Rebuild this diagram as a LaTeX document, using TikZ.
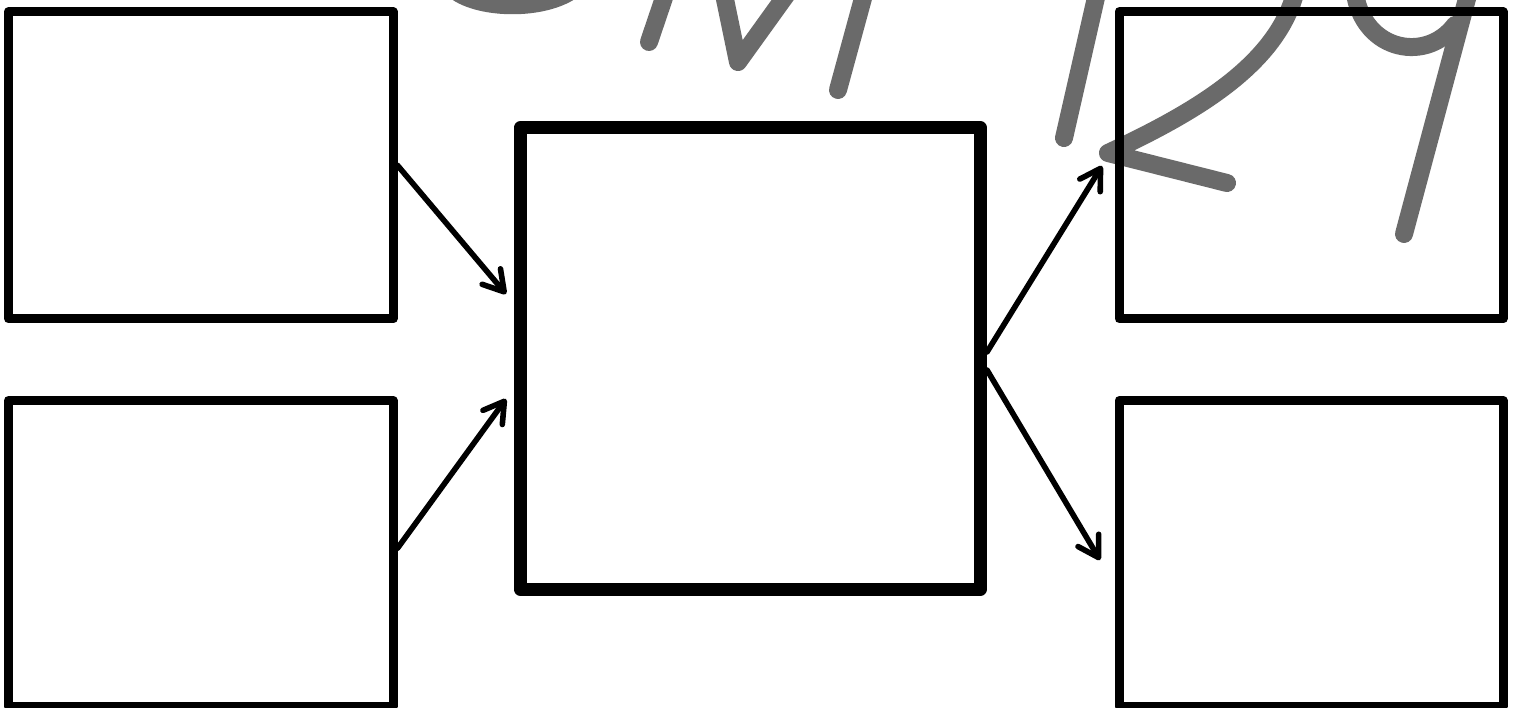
\documentclass[tikz,border=0pt]{standalone}
\usetikzlibrary{arrows.meta,calc}
\definecolor{pencil}{HTML}{6A6A6A}
\tikzset{
  panel/.style={draw=black, line width=9pt, line join=round, rectangle, inner sep=0pt},
  hub/.style={panel, line width=13pt},
  link/.style={draw=black, line width=5.6pt, line cap=round,
    -{Straight Barb[length=20pt,width=24pt,round]}},
  scrawl/.style={draw=pencil, line width=18pt, line cap=round, line join=round},
}
\begin{document}
\begin{tikzpicture}[x=1pt,y=-1pt]
\fill[white] (0,0) rectangle (1516,708);
\useasboundingbox (0,0) rectangle (1516,708);
\clip (0,0) rectangle (1516,708);

% handwritten pencil mark across the top
\draw[scrawl] (452,-12) .. controls (475,10) and (545,12) .. (575,-12);
\draw[scrawl] (670,-20) -- (649,42);
\draw[scrawl] (721,-20) -- (738,62) -- (797,-20);
\draw[scrawl] (868,-20) -- (838,90);
\draw[scrawl] (1100,-20) -- (1064,138);
\draw[scrawl] (1298,-20) .. controls (1285,60) and (1200,110) .. (1108,153) -- (1227,183);
\draw[scrawl] (1354,-15) .. controls (1358,50) and (1425,65) .. (1455,25);
\draw[scrawl] (1472,-20) -- (1404,234);

% boxes
\node[panel, minimum width=384.5pt, minimum height=307.3pt] (tl) at (200.75,165.35) {};
\node[panel, minimum width=384.5pt, minimum height=305.5pt] (bl) at (200.75,553.25) {};
\node[hub,   minimum width=460.5pt, minimum height=461pt]   (c)  at (750.25,358.5) {};
\node[panel, minimum width=384pt,   minimum height=307.3pt] (tr) at (1311,165.35) {};
\node[panel, minimum width=384pt,   minimum height=305.5pt] (br) at (1311,553.25) {};

% connectors
\coordinate (inA)  at ($(c.west)+(-7.5,-64.5)$);
\coordinate (inB)  at ($(c.west)+(-7.5,40.5)$);
\coordinate (outA) at ($(tr.west)+(-12.5,0.65)$);
\coordinate (outB) at ($(br.west)+(-14.5,6.75)$);

\draw[link] (tl.east) -- (inA);
\draw[link] ($(bl.east)+(0,-5)$) -- (inB);
\draw[link] ($(c.east)+(0,-6.5)$) -- (outA);
\draw[link] ($(c.east)+(0,11.5)$) -- (outB);
\end{tikzpicture}
\end{document}
